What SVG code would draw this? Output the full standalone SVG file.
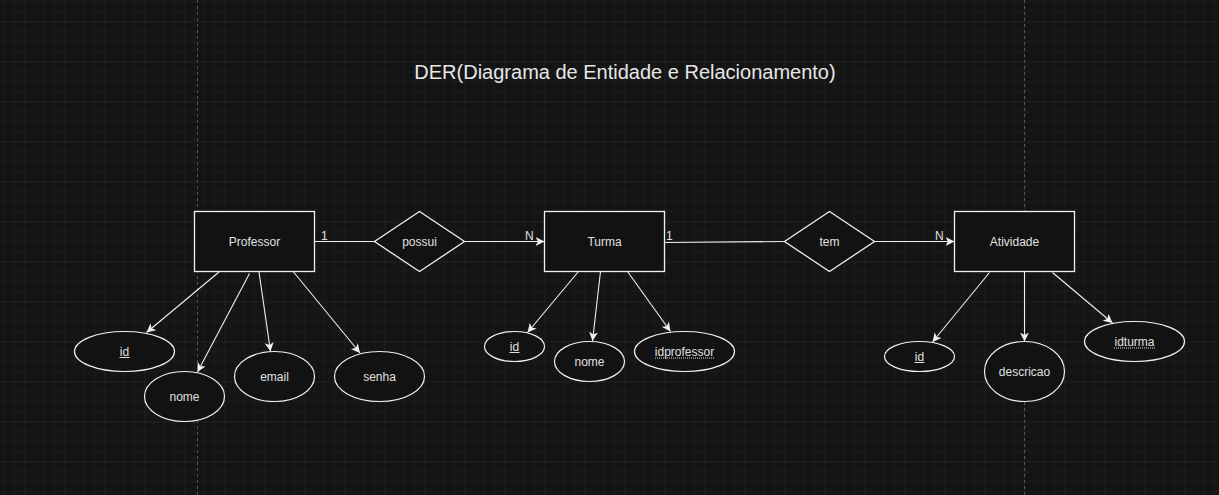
<svg xmlns="http://www.w3.org/2000/svg" width="1219" height="495" viewBox="0 0 1219 495">
<style>
.ent{fill:#121212;stroke:#f0f0f0;stroke-width:1.3}
.att{fill:#121212;stroke:#f0f0f0;stroke-width:1.2}
.lbl{font-family:"Liberation Sans",Arial,sans-serif;font-size:12px;fill:#e0e0e0;text-anchor:middle}
.card{font-family:"Liberation Sans",Arial,sans-serif;font-size:12px;fill:#e0e0e0}
.title{font-family:"Liberation Sans",Arial,sans-serif;font-size:20px;fill:#e6e6e6;text-anchor:middle}
.edge{stroke:#f0f0f0;stroke-width:1.1;fill:none}
.arr{marker-end:url(#arrow)}
.ul{stroke:#e0e0e0;stroke-width:1}
.dul{stroke:#e0e0e0;stroke-width:1;stroke-dasharray:1 1}
</style>
<defs>
<pattern id="grid" x="24.5" y="21.5" width="40" height="40" patternUnits="userSpaceOnUse">
<path d="M10 0V40M20 0V40M30 0V40M0 10H40M0 20H40M0 30H40" stroke="#1b1b1b" stroke-width="1" fill="none"/>
<path d="M0 0V40M0 0H40" stroke="#2b2b2b" stroke-width="1" fill="none"/>
</pattern>
<marker id="arrow" markerUnits="userSpaceOnUse" markerWidth="12" markerHeight="12" refX="9" refY="4.5" orient="auto">
<path d="M0 0 L9 4.5 L0 9 L2.5 4.5 Z" fill="#f0f0f0"/>
</marker>
</defs>
<rect width="1219" height="495" fill="#141414"/>
<rect width="1219" height="495" fill="url(#grid)"/>
<line x1="197.5" y1="0" x2="197.5" y2="495" stroke="#555" stroke-width="1" stroke-dasharray="3 3"/>
<line x1="1024.5" y1="0" x2="1024.5" y2="495" stroke="#555" stroke-width="1" stroke-dasharray="3 3"/>

<text class="title" x="625" y="79">DER(Diagrama de Entidade e Relacionamento)</text>

<g id="connectors">
<line class="edge" x1="314.5" y1="241.5" x2="374.5" y2="241.5"/>
<line class="edge arr" x1="464.5" y1="241.5" x2="544.5" y2="241.5"/>
<line class="edge" x1="664.5" y1="242.5" x2="784.5" y2="241.5"/>
<line class="edge arr" x1="874.5" y1="241.5" x2="954.5" y2="241.5"/>
<line class="edge arr" x1="219" y1="272" x2="146.5" y2="332.5"/>
<line class="edge arr" x1="249.5" y1="273.5" x2="197.5" y2="372"/>
<line class="edge arr" x1="259" y1="272" x2="270.5" y2="351.5"/>
<line class="edge arr" x1="291.5" y1="269.5" x2="360" y2="353"/>
<line class="edge arr" x1="578.5" y1="271.5" x2="527.5" y2="332.5"/>
<line class="edge arr" x1="600.5" y1="271.5" x2="592.5" y2="341"/>
<line class="edge arr" x1="627.5" y1="271.5" x2="670.5" y2="331.5"/>
<line class="edge arr" x1="989.5" y1="272.5" x2="932.5" y2="342"/>
<line class="edge arr" x1="1024.5" y1="272" x2="1024.5" y2="341.5"/>
<line class="edge arr" x1="1052.5" y1="272.5" x2="1112.5" y2="323"/>
<text class="card" x="321" y="240">1</text>
<text class="card" x="525" y="240">N</text>
<text class="card" x="666" y="240">1</text>
<text class="card" x="935" y="240">N</text>
</g>

<g id="professor">
<rect class="ent" x="194.5" y="211.5" width="120" height="60"/>
<text class="lbl" x="254.5" y="245.5">Professor</text>
</g>
<g id="possui">
<polygon class="ent" points="419.5,211.5 464.5,241.5 419.5,271.5 374.5,241.5"/>
<text class="lbl" x="419.5" y="245.5">possui</text>
</g>
<g id="turma">
<rect class="ent" x="544.5" y="211.5" width="120" height="60"/>
<text class="lbl" x="604.5" y="245.5">Turma</text>
</g>
<g id="tem">
<polygon class="ent" points="829.5,211.5 874.5,241.5 829.5,271.5 784.5,241.5"/>
<text class="lbl" x="829.5" y="245.5">tem</text>
</g>
<g id="atividade">
<rect class="ent" x="954.5" y="211.5" width="120" height="60"/>
<text class="lbl" x="1014.5" y="245.5">Atividade</text>
</g>

<g id="prof-id">
<ellipse class="att" cx="124.5" cy="351.5" rx="50" ry="20"/>
<text class="lbl" x="124.5" y="355.5">id</text>
<line class="ul" x1="119.5" y1="357.5" x2="129.5" y2="357.5"/>
</g>
<g id="prof-nome">
<ellipse class="att" cx="184.5" cy="396.5" rx="40" ry="25"/>
<text class="lbl" x="184.5" y="400.5">nome</text>
</g>
<g id="prof-email">
<ellipse class="att" cx="274.5" cy="376.5" rx="40" ry="25"/>
<text class="lbl" x="274.5" y="380.5">email</text>
</g>
<g id="prof-senha">
<ellipse class="att" cx="379.5" cy="376.5" rx="45" ry="25"/>
<text class="lbl" x="379.5" y="380.5">senha</text>
</g>

<g id="turma-id">
<ellipse class="att" cx="514.5" cy="346.5" rx="30" ry="15"/>
<text class="lbl" x="514.5" y="350.5">id</text>
<line class="ul" x1="509.5" y1="352.5" x2="519.5" y2="352.5"/>
</g>
<g id="turma-nome">
<ellipse class="att" cx="589.5" cy="361.5" rx="35" ry="20"/>
<text class="lbl" x="589.5" y="365.5">nome</text>
</g>
<g id="turma-idprofessor">
<ellipse class="att" cx="684.5" cy="351.5" rx="50" ry="20"/>
<text class="lbl" x="684.5" y="355.5">idprofessor</text>
<line class="dul" x1="655" y1="358" x2="714" y2="358"/>
</g>

<g id="ativ-id">
<ellipse class="att" cx="919.5" cy="356.5" rx="35" ry="15"/>
<text class="lbl" x="919.5" y="360.5">id</text>
<line class="ul" x1="914.5" y1="362.5" x2="924.5" y2="362.5"/>
</g>
<g id="ativ-descricao">
<ellipse class="att" cx="1024.5" cy="371.5" rx="40" ry="30"/>
<text class="lbl" x="1024.5" y="375.5">descricao</text>
</g>
<g id="ativ-idturma">
<ellipse class="att" cx="1134.5" cy="341.5" rx="50" ry="20"/>
<text class="lbl" x="1134.5" y="345.5">idturma</text>
<line class="dul" x1="1114" y1="348" x2="1155" y2="348"/>
</g>
</svg>
